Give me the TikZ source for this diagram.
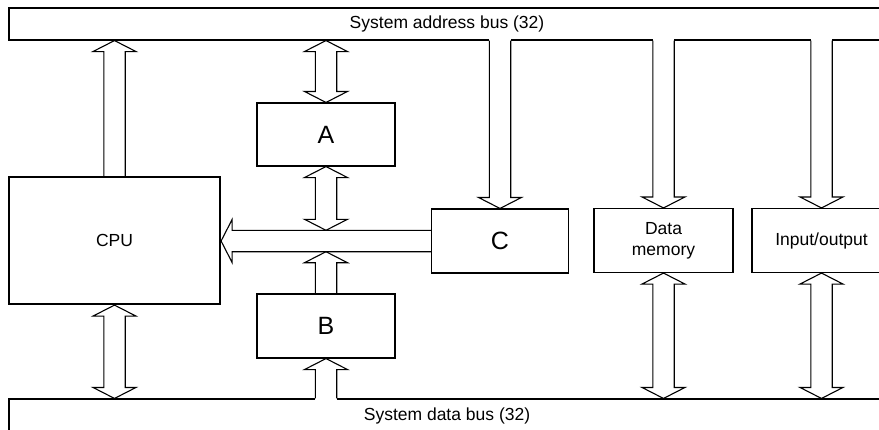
\documentclass[tikz,border=0pt]{standalone}
\usepackage{fontspec}
\setmainfont{Liberation Sans}
\usetikzlibrary{calc,positioning}

% half width of shaft, half width of head, head length
\def\fatW{10.7pt}
\def\fatH{21.5pt}
\def\fatL{11pt}

% single wide arrow, tail #2 left open, tip at #3 (optional #1: fill under the shaft)
\newcommand{\fatarrow}[3][]{%
  \path (#2) coordinate (fa-s) (#3) coordinate (fa-t)
        ($(fa-t)!\fatL!(fa-s)$) coordinate (fa-b)
        ($(fa-s)!-1.5pt!(fa-t)$) coordinate (fa-o);
  \ifx\relax#1\relax\else
    \fill[#1] ($(fa-o)!\fatW!90:(fa-t)$) -- ($(fa-b)!\fatW!90:(fa-t)$)
      -- ($(fa-b)!\fatW!-90:(fa-t)$) -- ($(fa-o)!\fatW!-90:(fa-t)$) -- cycle;
  \fi
  \draw[fat] ($(fa-s)!\fatW!90:(fa-t)$) -- ($(fa-b)!\fatW!90:(fa-t)$)
    -- ($(fa-b)!\fatH!90:(fa-t)$) -- (fa-t) -- ($(fa-b)!\fatH!-90:(fa-t)$)
    -- ($(fa-b)!\fatW!-90:(fa-t)$) -- ($(fa-s)!\fatW!-90:(fa-t)$);}

% wide arrow with a head at both ends
\newcommand{\fatdouble}[2]{%
  \path (#1) coordinate (fa-s) (#2) coordinate (fa-t)
        ($(fa-s)!\fatL!(fa-t)$) coordinate (fa-a)
        ($(fa-t)!\fatL!(fa-s)$) coordinate (fa-b);
  \draw[fat] (fa-s) -- ($(fa-a)!\fatH!90:(fa-t)$) -- ($(fa-a)!\fatW!90:(fa-t)$)
    -- ($(fa-b)!\fatW!90:(fa-t)$) -- ($(fa-b)!\fatH!90:(fa-t)$) -- (fa-t)
    -- ($(fa-b)!\fatH!-90:(fa-t)$) -- ($(fa-b)!\fatW!-90:(fa-t)$)
    -- ($(fa-a)!\fatW!-90:(fa-t)$) -- ($(fa-a)!\fatH!-90:(fa-t)$) -- cycle;}

\begin{document}
\begin{tikzpicture}[x=1pt,y=-1pt,
    fat/.style={line width=1.1pt,line join=miter},
    bus/.style={draw,line width=1.1pt,minimum width=876pt,
      font=\fontsize{17.5}{21}\selectfont},
    block/.style={draw,line width=1.1pt,minimum height=64pt,inner sep=0pt,
      align=center,font=\fontsize{17.5}{21}\selectfont},
    letter/.style={block,font=\fontsize{25}{30}\selectfont}]
  \useasboundingbox (0,0) rectangle (879,429);
  \clip (0,0) rectangle (879,429);

  % buses
  \node[bus,minimum height=32pt] (addr) at (447,24) {System address bus (32)};
  \node[bus,minimum height=34pt] (dbus) at (447,416) {System data bus (32)};

  % blocks
  \node[block,line width=2.2pt,minimum width=211pt,minimum height=127pt]
    (cpu) at (114.5,240.5) {CPU};
  \node[letter,minimum width=138pt,minimum height=63pt] (a) at (326,134.5) {A};
  \node[letter,minimum width=138pt] (b) at (326,326) {B};
  \node[letter,minimum width=137pt] (c) at (500,241) {C};
  \node[block,minimum width=139pt] (dm) at (663.5,240.5) {Data\\memory};
  \node[block,minimum width=139pt] (io) at (821.5,240.5) {Input/output};

  % C to CPU
  \fatarrow{c.west}{c.west -| cpu.east}
  \coordinate (hb-top) at ($(c.west -| a.south)+(0,-10.7)$);
  \coordinate (hb-bot) at ($(c.west -| a.south)+(0,10.7)$);

  % address side
  \fatarrow{cpu.north}{cpu.north |- addr.south}
  \fatdouble{a.north}{a.north |- addr.south}
  \fatdouble{a.south}{hb-top}
  \fatarrow[white]{c.north |- addr.south}{c.north}
  \fatarrow[white]{dm.north |- addr.south}{dm.north}
  \fatarrow[white]{io.north |- addr.south}{io.north}

  % data side
  \fatdouble{cpu.south}{cpu.south |- dbus.north}
  \fatarrow{b.north}{hb-bot}
  \fatarrow[white]{b.south |- dbus.north}{b.south}
  \fatdouble{dm.south}{dm.south |- dbus.north}
  \fatdouble{io.south}{io.south |- dbus.north}
\end{tikzpicture}
\end{document}
